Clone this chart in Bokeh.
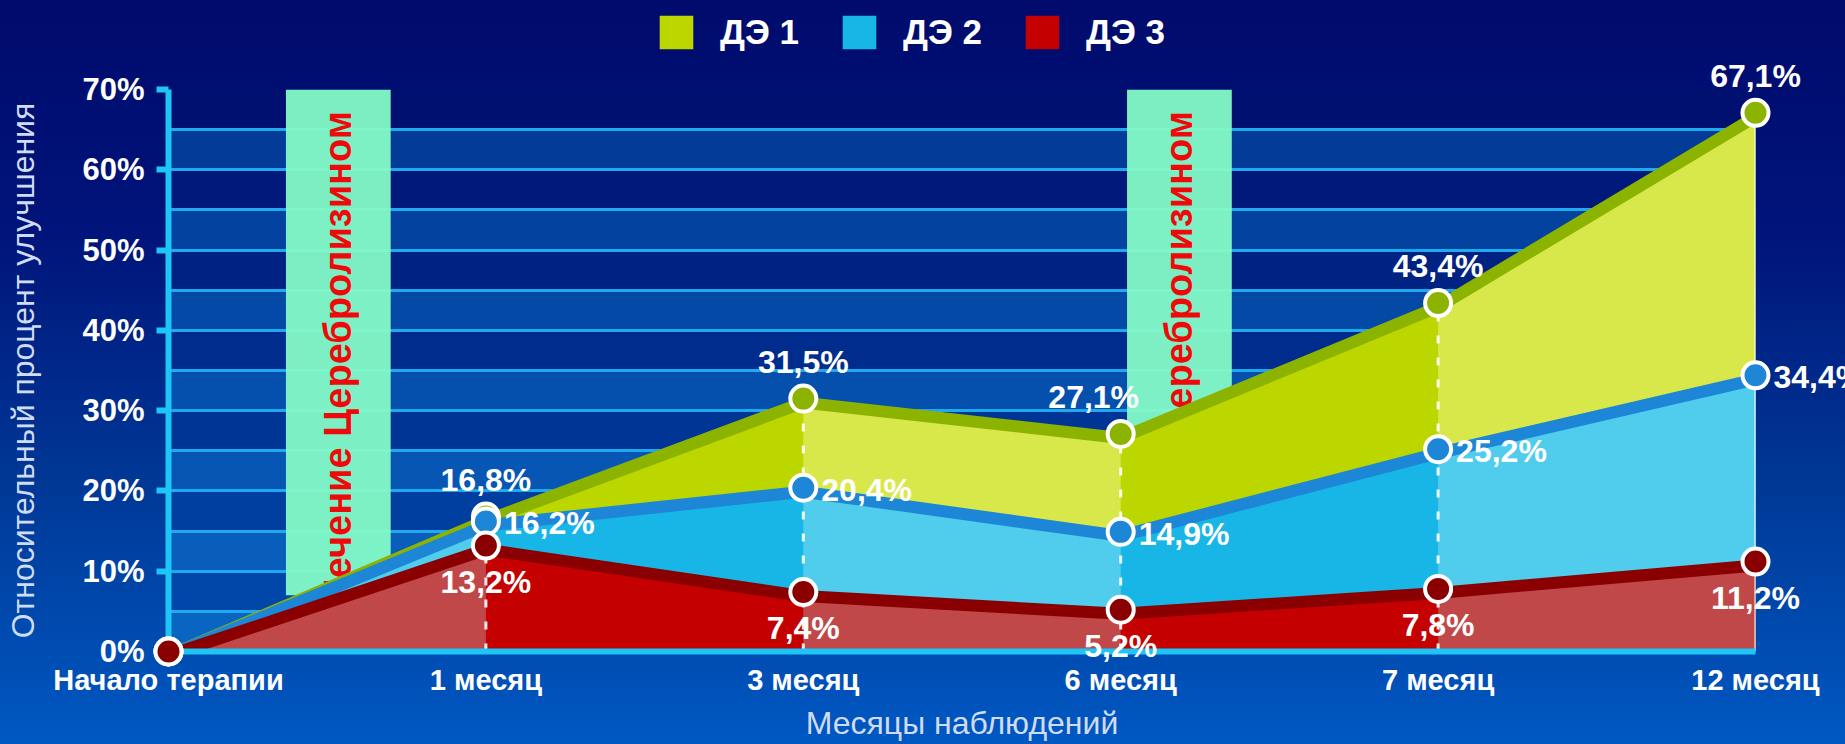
import numpy as np
from bokeh.plotting import figure
from bokeh.layouts import column
from bokeh.models import (Range1d, FixedTicker, ColumnDataSource, Legend, LegendItem)
from bokeh.core.properties import value
from bokeh.embed import file_html
from bokeh.resources import INLINE

# ---------------- data ----------------
categories = ["Начало терапии", "1 месяц", "3 месяц", "6 месяц", "7 месяц", "12 месяц"]
de1 = [0.0, 16.8, 31.5, 27.1, 43.4, 67.1]
de2 = [0.0, 16.2, 20.4, 14.9, 25.2, 34.4]
de3 = [0.0, 13.2, 7.4, 5.2, 7.8, 11.2]
series_names = ["ДЭ 1", "ДЭ 2", "ДЭ 3"]
y_ticks = [0, 10, 20, 30, 40, 50, 60, 70]
y_tick_labels = ["0%", "10%", "20%", "30%", "40%", "50%", "60%", "70%"]
treatment_label = "Лечение Церебролизином"
treatment_start = [0.37, 3.02]
treatment_end = [0.70, 3.35]
treatment_bottom = 7
treatment_top = 70
x_title = "Месяцы наблюдений"
y_title = "Относительный процент улучшения"

FONT = "Liberation Sans"
W, H = 1845, 744
LEG_H = 54
grad = "linear-gradient(180deg, #000b6c 0%, #00137a 30%, #003896 65%, #0058c2 100%)"

x = np.arange(len(categories))
series = [de1, de2, de3]

p = figure(width=W, height=H - LEG_H, x_range=Range1d(0, 5), y_range=Range1d(0, 70),
           output_backend="svg", toolbar_location=None,
           min_border_left=168, min_border_right=90,
           min_border_top=89 - LEG_H, min_border_bottom=93)
p.border_fill_alpha = 0
p.background_fill_alpha = 0
p.outline_line_color = None

# ------------- striped plot background -------------
def hexc(c):
    c = np.clip(np.round(c), 0, 255).astype(int)
    return "#%02x%02x%02x" % tuple(c)

edges = np.arange(0, 71, 5)
light_bot, light_top = np.array([10, 100, 194]), np.array([2, 56, 148])
dark_bot, dark_top = np.array([0, 76, 174]), np.array([0, 16, 112])
stripe_colors = []
for k in range(len(edges) - 1):
    t = k / (len(edges) - 2)
    if k % 2 == 0:
        stripe_colors.append(hexc(light_bot * (1 - t) + light_top * t))
    else:
        stripe_colors.append(hexc(dark_bot * (1 - t) + dark_top * t))
p.quad(left=0, right=5, bottom=edges[:-1], top=edges[1:], fill_color=stripe_colors,
       line_color=None, level="image")

p.xgrid.visible = False
p.ygrid.ticker = FixedTicker(ticks=list(edges))
p.ygrid.grid_line_color = "#1fa9ee"
p.ygrid.grid_line_width = 3

# ------------- treatment bands -------------
p.quad(left=treatment_start, right=treatment_end, bottom=treatment_bottom,
       top=treatment_top, fill_color="#84fac6", fill_alpha=0.95, line_color=None)
tx = [(s + e) / 2 for s, e in zip(treatment_start, treatment_end)]
p.text(x=tx, y=[67.3, 67.3], text=[treatment_label] * 2, angle=np.pi / 2,
       text_align="right", text_baseline="middle", text_color="#ee0a0a",
       text_font=value(FONT), text_font_style="bold", text_font_size="38px")

# ------------- areas -------------
sat_colors = ["#bcd600", "#18b6e6", "#c40000"]
light_colors = ["#d8e84a", "#50cdec", "#c04848"]
edge_colors = ["#8cb300", "#1d86d6", "#8a0000"]
light_segments = [0, 2, 4]
for vals, sat, light, edge in zip(series, sat_colors, light_colors, edge_colors):
    p.varea(x=x, y1=0, y2=vals, fill_color=sat)
    xs, ys = [], []
    for i in light_segments:
        xs.append([x[i], x[i], x[i + 1], x[i + 1]])
        ys.append([0, vals[i], vals[i + 1], 0])
    p.patches(xs, ys, fill_color=light, line_color=None)
    p.line(x, np.array(vals) - 0.5, line_color=edge, line_width=12, line_join="round")

# drop lines
p.segment(x0=x[1:5], y0=0, x1=x[1:5], y1=de1[1:5], line_color="white",
          line_dash="8 14", line_width=3, line_alpha=0.9)
p.segment(x0=[x[5]], y0=[0], x1=[x[5]], y1=[de1[5]], line_color="white", line_width=2)

# markers
for vals, edge in zip(series, edge_colors):
    p.scatter(x, vals, size=26, fill_color=edge, line_color="white", line_width=4,
              level="overlay")

# labels
def fmt(v):
    return ("%.1f%%" % v).replace(".", ",")

lab_font = dict(text_color="white", text_font=value(FONT), text_font_style="bold",
                text_font_size="32px", text_baseline="middle", level="overlay")
s1 = ColumnDataSource(dict(x=x[1:], y=de1[1:], t=[fmt(v) for v in de1[1:]],
                           xo=[0, 0, -27, 0, 0]))
p.text(x="x", y="y", text="t", source=s1, x_offset="xo", y_offset=-37,
       text_align="center", **lab_font)
s2 = ColumnDataSource(dict(x=x[1:], y=de2[1:], t=[fmt(v) for v in de2[1:]]))
p.text(x="x", y="y", text="t", source=s2, x_offset=18, y_offset=2,
       text_align="left", **lab_font)
s3 = ColumnDataSource(dict(x=x[1:], y=de3[1:], t=[fmt(v) for v in de3[1:]]))
p.text(x="x", y="y", text="t", source=s3, y_offset=36,
       text_align="center", **lab_font)

# ------------- axes -------------
axis_color = "#1cc6f6"
p.yaxis.ticker = FixedTicker(ticks=y_ticks)
p.yaxis.major_label_overrides = {t: l for t, l in zip(y_ticks, y_tick_labels)}
p.xaxis.ticker = FixedTicker(ticks=list(x))
p.xaxis.major_label_overrides = {int(i): c for i, c in zip(x, categories)}
for ax in (p.xaxis, p.yaxis):
    ax.axis_line_color = axis_color
    ax.axis_line_width = 6
    ax.major_tick_line_color = axis_color
    ax.major_tick_line_width = 6
    ax.minor_tick_line_color = None
    ax.major_label_text_color = "white"
    ax.major_label_text_font = FONT
    ax.major_label_text_font_style = "bold"
    ax.major_label_text_font_size = "29px"
    ax.axis_label_text_font = FONT
    ax.axis_label_text_font_style = "normal"
    ax.axis_label_text_font_size = "32px"
    ax.axis_label_text_color = "#cfdcf4"
p.yaxis.major_label_text_font_size = "31px"
p.yaxis.major_tick_out = 12
p.yaxis.major_tick_in = 0
p.yaxis.major_label_standoff = 12
p.yaxis.axis_label = y_title
p.yaxis.axis_label_standoff = 38
p.xaxis.major_tick_out = 0
p.xaxis.major_tick_in = 0
p.xaxis.major_label_standoff = 12
p.xaxis.axis_label = x_title
p.xaxis.axis_label_standoff = 6

# ------------- legend (own strip above the chart) -------------
pl = figure(width=W, height=LEG_H, output_backend="svg", toolbar_location=None,
            x_axis_type=None, y_axis_type=None,
            min_border_left=0, min_border_right=0, min_border_top=0, min_border_bottom=0)
pl.border_fill_alpha = 0
pl.background_fill_alpha = 0
pl.outline_line_color = None
pl.grid.visible = False
leg_renderers = []
for vals, sat in zip(series, sat_colors):
    r = pl.varea(x=x, y1=0, y2=vals, fill_color=sat)
    r.visible = False
    leg_renderers.append(r)
legend = Legend(items=[LegendItem(label=n, renderers=[r])
                       for n, r in zip(series_names, leg_renderers)],
                orientation="horizontal", location=(487, LEG_H - 53),
                glyph_width=42, glyph_height=42, label_height=42, label_standoff=23,
                spacing=39, padding=0, margin=0,
                background_fill_alpha=0, border_line_color=None,
                label_text_color="white", label_text_font=FONT,
                label_text_font_style="bold", label_text_font_size="35px")
pl.add_layout(legend)

page = column(pl, p, spacing=0)
page.styles = {"background": grad}
try:
    from bokeh.models import GlobalInlineStyleSheet
    page.stylesheets = [GlobalInlineStyleSheet(
        css="html, body { background: " + grad + "; min-height: 100%; }")]
except Exception:
    pass

open("out.html", "w").write(file_html(page, INLINE))
